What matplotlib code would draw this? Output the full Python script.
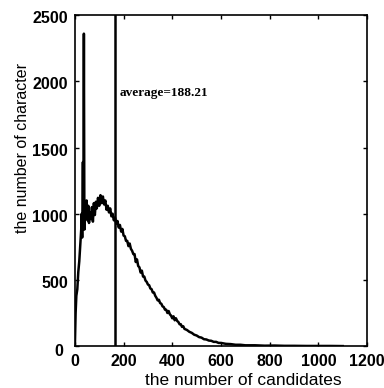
import matplotlib.pyplot as plt
import matplotlib.transforms as mtransforms

# histogram of candidate counts
cand = [0, 3, 6, 10, 14, 18, 22, 26, 28, 30, 33, 35, 37, 39, 42, 45, 48, 52, 55, 58,
        62, 66, 70, 74, 78, 82, 86, 90, 95, 100, 105, 110, 115, 120, 125, 130, 135,
        140, 145, 150, 155, 160, 165, 170, 175, 180, 185, 190, 195, 200, 205, 210,
        215, 220, 225, 230, 235, 240, 245, 250, 255, 260, 265, 270, 275, 280, 285,
        290, 295, 300, 305, 310, 315, 320, 325, 330, 335, 340, 345, 350, 355, 360,
        365, 370, 375, 380, 385, 390, 395, 400, 405, 410, 415, 420, 425, 430, 435,
        440, 445, 450, 460, 470, 480, 490, 500, 510, 520, 530, 540, 550, 560, 570,
        580, 590, 600, 620, 640, 660, 680, 700, 740, 780, 820, 860, 900, 950, 1000,
        1050, 1100]
count = [0, 250, 380, 430, 560, 640, 760, 880, 1000, 820, 1390, 900, 2360, 880, 1080,
         1000, 1100, 950, 1060, 930, 1010, 960, 1050, 940, 1080, 990, 1090, 1040, 1120,
         1060, 1140, 1080, 1130, 1070, 1100, 1030, 1060, 1010, 1040, 980, 1000, 950,
         970, 925, 945, 895, 915, 865, 885, 835, 830, 795, 795, 755, 775, 735, 720,
         695, 695, 635, 655, 605, 595, 555, 570, 525, 525, 495, 485, 465, 460, 435,
         430, 405, 405, 380, 365, 345, 350, 325, 320, 300, 295, 275, 275, 250, 265,
         240, 230, 210, 225, 195, 210, 190, 182, 165, 165, 145, 150, 130, 122, 108,
         100, 86, 80, 68, 64, 52, 50, 42, 40, 32, 32, 24, 24, 17, 15, 10, 10, 6, 6, 3,
         4, 2, 2, 1, 1, 1, 0]
avg_pos = 165
avg_label = 'average=188.21'

fig = plt.figure(figsize=(3.84, 3.88), dpi=100)
ax = fig.add_axes([0.195, 0.108, 0.761, 0.853])

ax.plot(cand, count, color='black', lw=1.8)
ax.axvline(avg_pos, color='black', lw=1.8)
ax.text(185, 1910, avg_label, family='Liberation Serif', fontsize=9.5,
        fontweight='bold', va='center')

ax.set_xlim(0, 1200)
ax.set_ylim(0, 2500)
ax.set_xticks([0, 200, 400, 600, 800, 1000, 1200])
ax.set_yticks([0, 500, 1000, 1500, 2000, 2500])
ax.tick_params(direction='in', top=True, right=True, length=3, width=1,
               labelsize=11.5)
ax.tick_params(axis='x', pad=6)
ax.tick_params(axis='y', pad=5)
for lab in ax.get_xticklabels() + ax.get_yticklabels():
    lab.set_fontweight('bold')
    lab.set_family('Liberation Sans')
# matlab-like corner zeros
ylab0 = ax.get_yticklabels()[0]
ylab0.set_transform(ylab0.get_transform() +
                    mtransforms.ScaledTranslation(-5/100, -4/100, fig.dpi_scale_trans))
for lab in ax.get_yticklabels()[1:]:
    lab.set_transform(lab.get_transform() +
                      mtransforms.ScaledTranslation(0, -2/100, fig.dpi_scale_trans))
for s in ax.spines.values():
    s.set_linewidth(1.2)

ax.set_xlabel('the number of candidates', family='Liberation Sans', fontsize=12.5,
              va='center')
ax.xaxis.set_label_coords(0.575, -0.104)
ax.set_ylabel('the number of character', family='Liberation Sans', fontsize=11.5)
ax.yaxis.set_label_coords(-0.154, 0.6)

plt.savefig('out.png')
